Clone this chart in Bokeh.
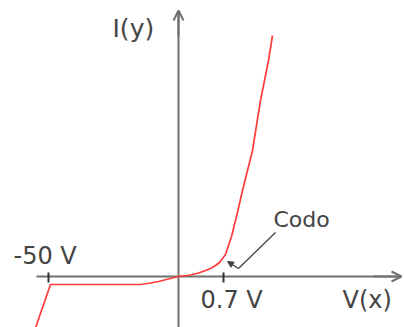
from bokeh.plotting import figure
from bokeh.models import Range1d, Arrow, OpenHead, NormalHead
from bokeh.core.properties import value
from bokeh.embed import file_html
from bokeh.resources import INLINE

# Schematic diode I-V curve (x: schematic voltage units, y: schematic current units)
curve_v = [-146, -128, -100, -60, -38, -28, -20, -10, 0, 12, 20, 27, 33, 37, 41, 44, 47, 49,
           51, 53, 55, 58, 61, 64, 69, 74, 78, 82, 86, 90, 94]
curve_i = [-60, -8, -8, -8, -8, -6.5, -5, -2.5, 0, 1.5, 3.5, 6, 8.5, 11, 14, 18, 22, 28,
           34, 40, 48, 60, 73, 86, 106, 126, 151, 176, 196, 216, 241]

tick_pos = [-130, 45]
tick_labels = ["-50 V", "0.7 V"]
x_label = "V(x)"
y_label = "I(y)"
knee_label = "Codo"

W, H = 404, 327
p = figure(width=W, height=H, output_backend="svg", toolbar_location=None,
           x_range=Range1d(-178, 226), y_range=Range1d(-51, 276),
           min_border=0, min_border_left=0, min_border_right=0,
           min_border_top=0, min_border_bottom=0)
p.axis.visible = False
p.grid.visible = False
p.outline_line_color = None
p.background_fill_color = "white"
p.border_fill_color = "white"

axis_col = "#707070"
txt_col = "#444444"

# axes lines
p.segment(x0=[-142, 0], y0=[0, -60], x1=[222, 0], y1=[0, 264],
          line_color=axis_col, line_width=2)
p.add_layout(Arrow(end=OpenHead(size=10, line_color=axis_col, line_width=2),
                   x_start=195, y_start=0, x_end=223, y_end=0,
                   line_color=axis_col, line_width=2))
p.add_layout(Arrow(end=OpenHead(size=10, line_color=axis_col, line_width=2),
                   x_start=0, y_start=240, x_end=0, y_end=266,
                   line_color=axis_col, line_width=2))

# ticks
p.segment(x0=tick_pos, y0=[4] * len(tick_pos), x1=tick_pos, y1=[-6] * len(tick_pos),
          line_color="#333333", line_width=2)

# curve
p.line(curve_v, curve_i, line_color="#ff3b3b", line_width=1.7)

# annotation leader for the knee
p.line([97, 60], [44, 8], line_color="#444444", line_width=1.3)
p.add_layout(Arrow(end=NormalHead(size=6, fill_color="#444444", line_color="#444444"),
                   x_start=60, y_start=8, x_end=49, y_end=15,
                   line_color="#444444", line_width=1.3))

font = value("DejaVu Sans")
p.text(x=[-165, 22], y=[21, -23], text=tick_labels, text_font=font,
       text_font_size="24px", text_color=txt_col, text_align="left",
       text_baseline="alphabetic")
p.text(x=[164], y=[-23], text=[x_label], text_font=font, text_font_size="24px",
       text_color=txt_col, text_align="left", text_baseline="alphabetic")
p.text(x=[-66], y=[248], text=[y_label], text_font=font, text_font_size="25px",
       text_color=txt_col, text_align="left", text_baseline="alphabetic")
p.text(x=[95], y=[57], text=[knee_label], text_font=font, text_font_size="22px",
       text_color=txt_col, text_align="left", text_baseline="alphabetic")

open("out.html", "w").write(file_html(p, INLINE))
